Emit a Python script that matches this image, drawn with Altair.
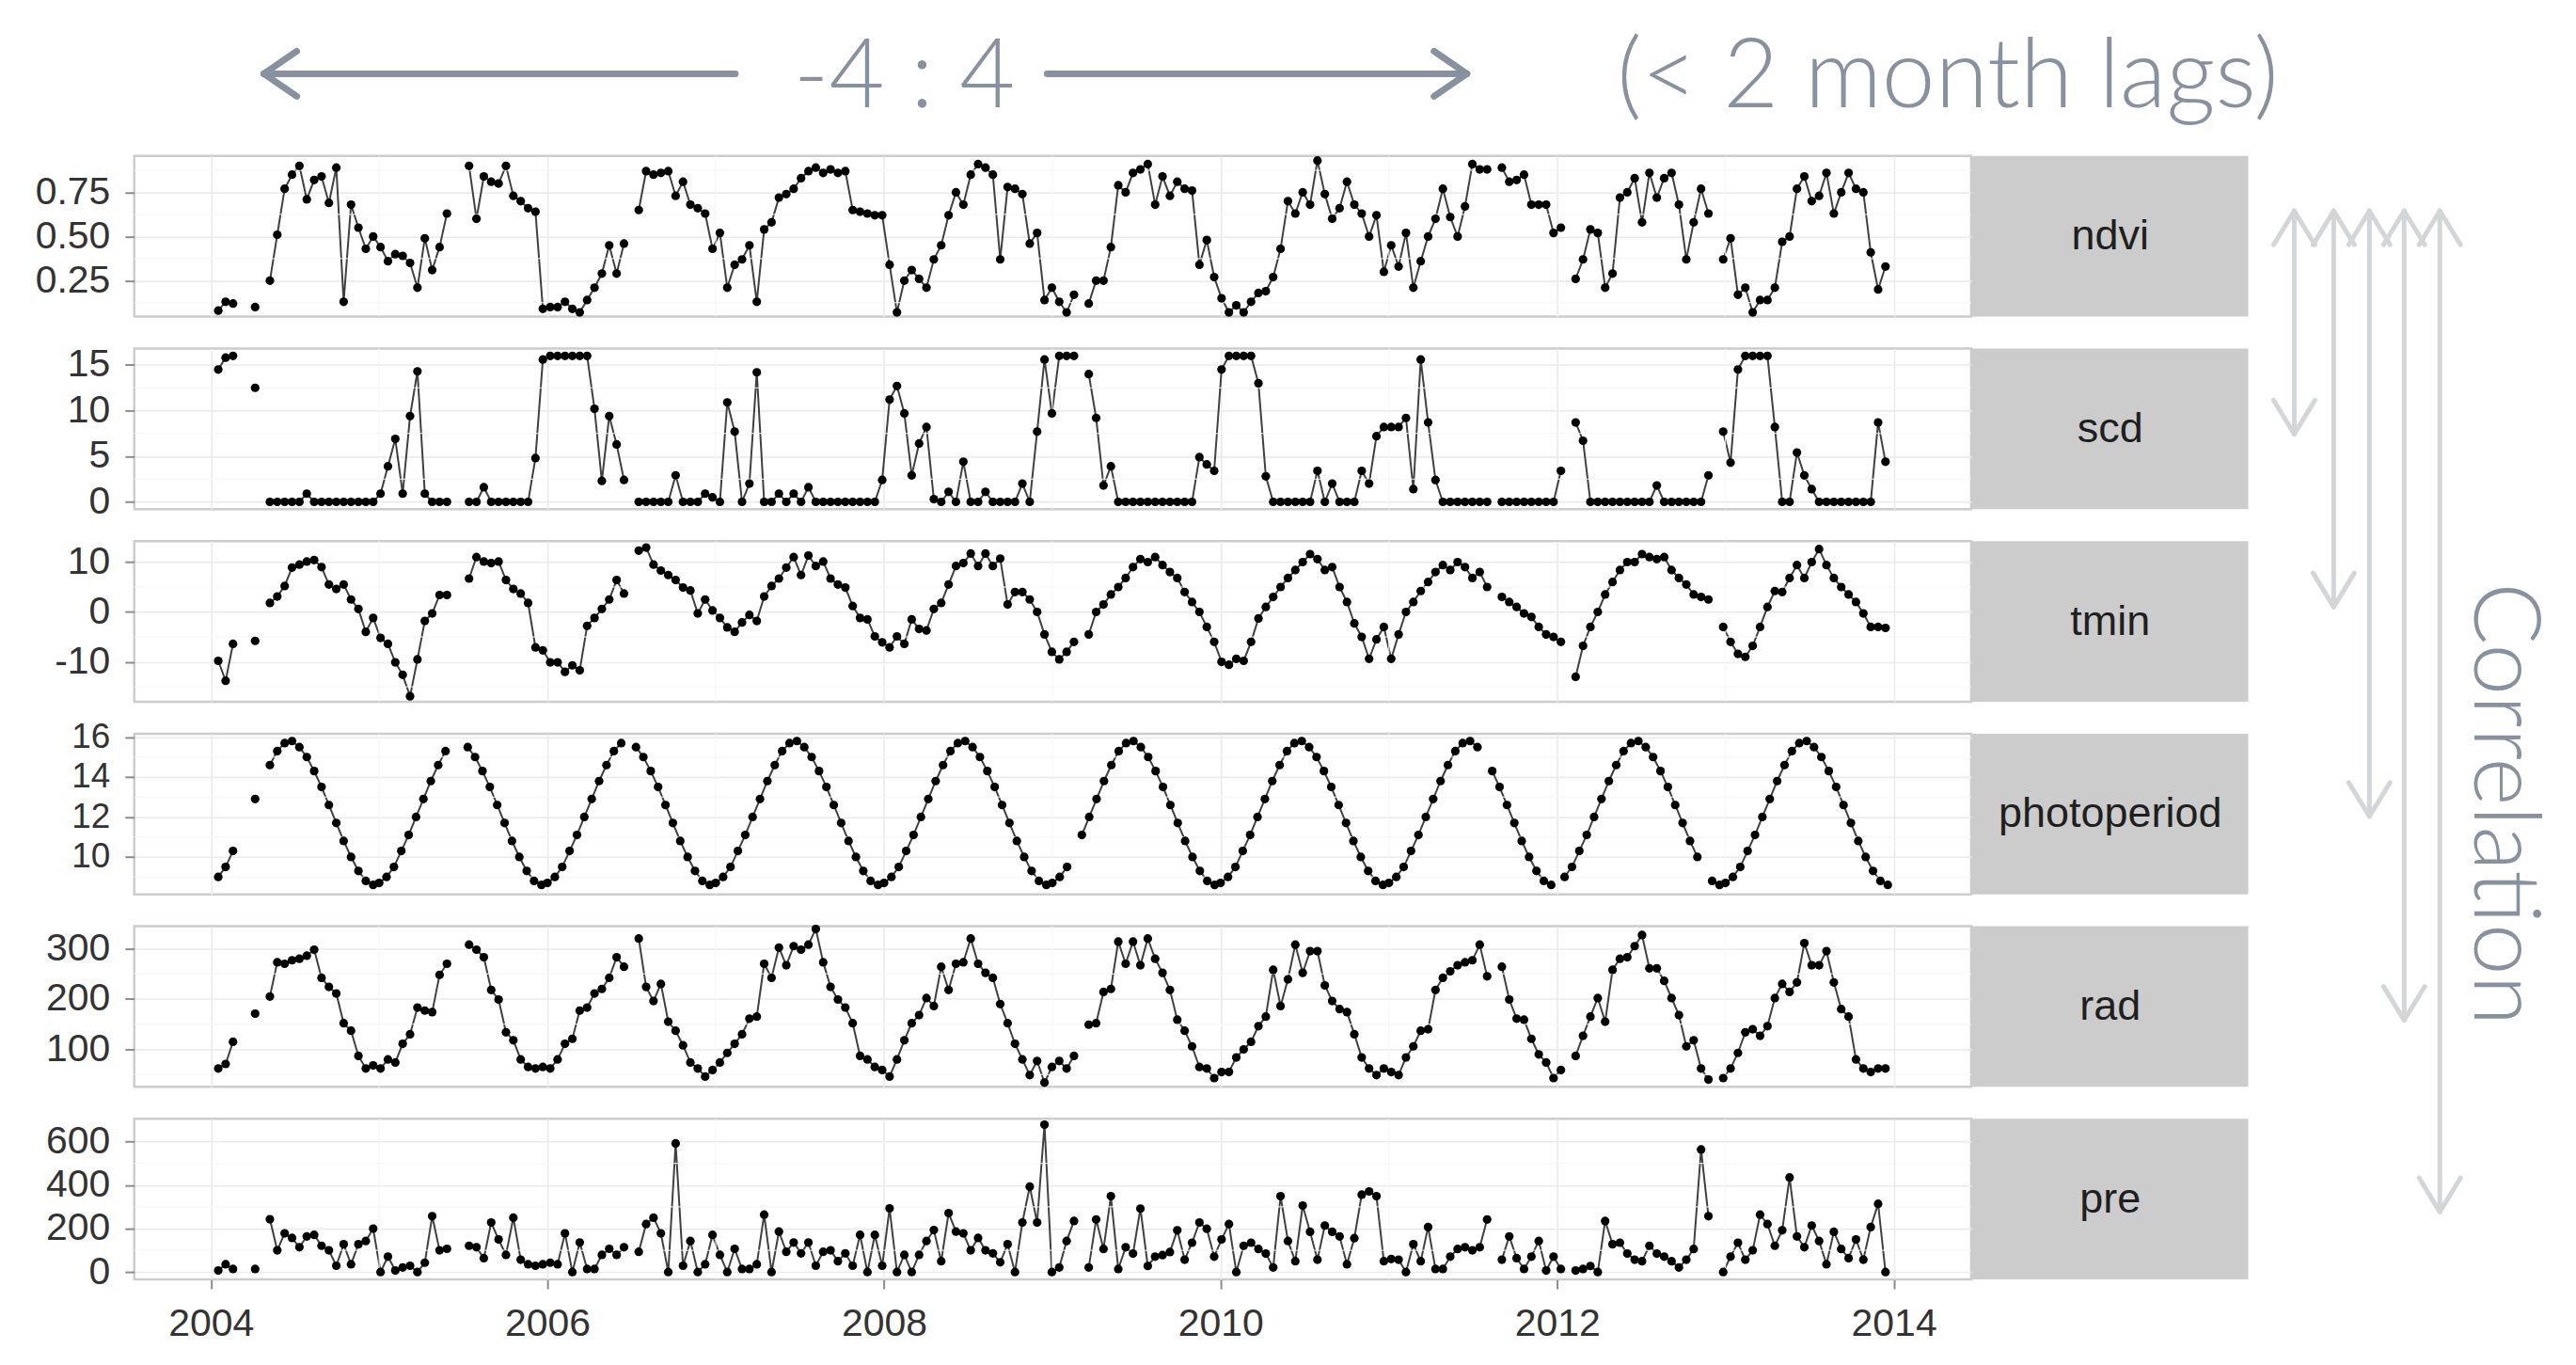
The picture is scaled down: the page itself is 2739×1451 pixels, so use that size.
import pandas as pd
import altair as alt

nan = float("nan")

YEARS = [2004, 2005, 2006, 2007, 2008, 2009, 2010, 2011, 2012, 2013]
DOY = [1, 17, 33, 49, 65, 81, 97, 113, 129, 145, 161, 177, 193, 209, 225, 241, 257, 273, 289, 305, 321, 337, 353]
STEP_DAYS = 16

NDVI = [
    [nan, 0.08, 0.13, 0.12, nan, nan, 0.10, nan, 0.25, 0.51, 0.77, 0.85, 0.90, 0.71, 0.82, 0.84, 0.69, 0.89, 0.13, 0.68, 0.55, 0.43, 0.50],
    [0.44, 0.36, 0.40, 0.39, 0.35, 0.21, 0.49, 0.31, 0.44, 0.63, nan, nan, 0.90, 0.60, 0.84, 0.81, 0.80, 0.90, 0.73, 0.70, 0.66, 0.64, 0.09],
    [0.10, 0.10, 0.13, 0.09, 0.07, 0.14, 0.21, 0.29, 0.45, 0.29, 0.46, nan, 0.65, 0.87, 0.85, 0.86, 0.87, 0.73, 0.81, 0.68, 0.66, 0.63, 0.43],
    [0.52, 0.21, 0.34, 0.37, 0.45, 0.13, 0.54, 0.58, 0.72, 0.74, 0.77, 0.83, 0.87, 0.89, 0.86, 0.88, 0.86, 0.87, 0.65, 0.64, 0.63, 0.62, 0.62],
    [0.34, 0.07, 0.25, 0.31, 0.26, 0.21, 0.37, 0.45, 0.62, 0.75, 0.68, 0.85, 0.91, 0.89, 0.85, 0.37, 0.78, 0.77, 0.74, 0.46, 0.52, 0.14, 0.21],
    [0.13, 0.07, 0.17, nan, 0.12, 0.25, 0.25, 0.44, 0.79, 0.75, 0.86, 0.88, 0.91, 0.68, 0.84, 0.73, 0.81, 0.77, 0.76, 0.34, 0.48, 0.27, 0.15],
    [0.07, 0.11, 0.07, 0.13, 0.18, 0.19, 0.27, 0.43, 0.70, 0.63, 0.75, 0.68, 0.93, 0.74, 0.60, 0.66, 0.81, 0.68, 0.63, 0.50, 0.62, 0.30, 0.45],
    [0.33, 0.52, 0.21, 0.36, 0.50, 0.60, 0.77, 0.61, 0.50, 0.67, 0.91, 0.88, 0.88, nan, 0.89, 0.81, 0.82, 0.85, 0.68, 0.68, 0.68, 0.52, 0.55],
    [nan, 0.26, 0.37, 0.54, 0.52, 0.21, 0.29, 0.72, 0.75, 0.83, 0.58, 0.86, 0.72, 0.83, 0.86, 0.68, 0.37, 0.58, 0.77, 0.63, nan, 0.37, 0.49],
    [0.17, 0.21, 0.07, 0.14, 0.14, 0.21, 0.47, 0.50, 0.77, 0.84, 0.70, 0.73, 0.86, 0.63, 0.75, 0.86, 0.77, 0.75, 0.41, 0.20, 0.33, nan, nan],
]

SCD = [
    [nan, 14.5, 15.8, 16, nan, nan, 12.5, nan, 0, 0, 0, 0, 0, 0.9, 0, 0, 0, 0, 0, 0, 0, 0, 0],
    [0.9, 3.9, 6.9, 0.9, 9.4, 14.3, 0.9, 0, 0, 0, nan, nan, 0, 0, 1.6, 0, 0, 0, 0, 0, 0, 4.8, 15.6],
    [16, 16, 16, 16, 16, 16, 10.2, 2.3, 9.4, 6.3, 2.4, nan, 0, 0, 0, 0, 0, 2.9, 0, 0, 0, 0.9, 0.5],
    [0, 10.9, 7.7, 0, 2.0, 14.2, 0, 0, 0.9, 0, 0.9, 0, 1.6, 0, 0, 0, 0, 0, 0, 0, 0, 0, 2.4],
    [11.2, 12.7, 9.7, 2.9, 6.4, 8.2, 0.3, 0, 1.1, 0, 4.4, 0, 0, 1.1, 0, 0, 0, 0, 2.0, 0, 7.7, 15.6, 9.7],
    [16, 16, 16, nan, 14, 9.2, 1.8, 3.9, 0, 0, 0, 0, 0, 0, 0, 0, 0, 0, 0, 4.9, 4.1, 3.4, 14.5],
    [16, 16, 16, 16, 13.0, 2.8, 0, 0, 0, 0, 0, 0, 3.4, 0, 2.0, 0, 0, 0, 3.4, 2.0, 7.2, 8.2, 8.2],
    [8.2, 9.2, 1.4, 15.6, 8.7, 2.4, 0, 0, 0, 0, 0, 0, 0, nan, 0, 0, 0, 0, 0, 0, 0, 0, 3.4],
    [nan, 8.7, 6.7, 0, 0, 0, 0, 0, 0, 0, 0, 0, 1.8, 0, 0, 0, 0, 0, 0, 2.9, nan, 7.7, 4.3],
    [14.5, 16, 16, 16, 16, 8.2, 0, 0, 5.4, 2.9, 1.4, 0, 0, 0, 0, 0, 0, 0, 0, 8.7, 4.4, nan, nan],
]

TMIN = [
    [nan, -9.8, -13.8, -6.4, nan, nan, -5.8, nan, 1.8, 3.1, 5.2, 8.9, 9.5, 10.1, 10.4, 9.0, 5.5, 4.6, 5.5, 2.5, 0.6, -4.0, -1.2],
    [-5.2, -6.4, -10.1, -12.6, -16.9, -9.5, -1.8, -0.3, 3.4, 3.4, nan, nan, 6.7, 11.0, 10.1, 9.8, 10.1, 6.4, 4.6, 3.7, 1.8, -7.1, -7.7],
    [-10.1, -10.1, -12.0, -10.7, -11.7, -2.8, -1.2, 0.6, 2.5, 6.4, 3.7, nan, 12.3, 12.9, 9.5, 8.3, 7.4, 6.4, 4.9, 4.3, -0.3, 2.5, 0.3],
    [-1.2, -3.1, -4.0, -2.1, -0.6, -1.8, 3.1, 5.2, 6.7, 8.9, 11.0, 7.4, 11.3, 9.2, 10.1, 6.7, 5.5, 4.9, 1.2, -1.2, -1.5, -4.9, -6.1],
    [-7.1, -4.9, -6.4, -1.5, -3.4, -3.7, 0.6, 1.8, 5.5, 9.2, 9.8, 11.7, 9.2, 11.7, 9.2, 10.7, 1.5, 4.0, 4.0, 2.5, 0.0, -4.5, -8.0],
    [-9.5, -8.0, -6.0, nan, -4.5, 0.0, 1.5, 3.5, 5.0, 6.8, 9.0, 10.6, 10.0, 11.0, 9.4, 8.0, 6.8, 4.0, 2.0, 0.0, -3.0, -6.0, -10.0],
    [-10.6, -9.4, -9.8, -6.0, -1.3, 1.0, 3.0, 5.0, 6.8, 8.4, 10.0, 11.6, 10.6, 8.4, 9.0, 5.0, 2.0, -2.3, -5.0, -9.4, -5.5, -3.0, -9.4],
    [-4.5, 0.0, 2.0, 4.2, 6.0, 8.0, 9.4, 8.4, 10.0, 9.0, 6.8, 8.0, 5.0, nan, 3.0, 2.0, 1.0, -0.3, -1.0, -3.0, -4.5, -5.0, -6.0],
    [nan, -13.0, -6.8, -3.0, 0.0, 3.5, 6.0, 8.4, 10.0, 10.0, 11.6, 11.0, 10.6, 11.0, 8.4, 6.8, 5.5, 3.5, 3.0, 2.5, nan, -3.0, -6.0],
    [-8.4, -9.0, -6.8, -3.0, 1.0, 4.2, 4.0, 6.8, 9.4, 6.8, 10.0, 12.6, 9.4, 6.8, 5.0, 3.5, 2.0, -0.3, -3.0, -3.0, -3.2, nan, nan],
]

PHOTOPERIOD = [
    [nan, 9.0, 9.5, 10.3, nan, nan, 12.9, nan, 14.6, 15.3, 15.7, 15.8, 15.5, 15.0, 14.3, 13.5, 12.6, 11.7, 10.8, 10.0, 9.3, 8.8, 8.6],
    [8.7, 9.0, 9.5, 10.3, 11.1, 12.0, 12.9, 13.8, 14.6, 15.3, nan, nan, 15.5, 15.0, 14.3, 13.5, 12.6, 11.7, 10.8, 10.0, 9.3, 8.8, 8.6],
    [8.7, 9.0, 9.5, 10.3, 11.1, 12.0, 12.9, 13.8, 14.6, 15.3, 15.7, nan, 15.5, 15.0, 14.3, 13.5, 12.6, 11.7, 10.8, 10.0, 9.3, 8.8, 8.6],
    [8.7, 9.0, 9.5, 10.3, 11.1, 12.0, 12.9, 13.8, 14.6, 15.3, 15.7, 15.8, 15.5, 15.0, 14.3, 13.5, 12.6, 11.7, 10.8, 10.0, 9.3, 8.8, 8.6],
    [8.7, 9.0, 9.5, 10.3, 11.1, 12.0, 12.9, 13.8, 14.6, 15.3, 15.7, 15.8, 15.5, 15.0, 14.3, 13.5, 12.6, 11.7, 10.8, 10.0, 9.3, 8.8, 8.6],
    [8.7, 9.0, 9.5, nan, 11.1, 12.0, 12.9, 13.8, 14.6, 15.3, 15.7, 15.8, 15.5, 15.0, 14.3, 13.5, 12.6, 11.7, 10.8, 10.0, 9.3, 8.8, 8.6],
    [8.7, 9.0, 9.5, 10.3, 11.1, 12.0, 12.9, 13.8, 14.6, 15.3, 15.7, 15.8, 15.5, 15.0, 14.3, 13.5, 12.6, 11.7, 10.8, 10.0, 9.3, 8.8, 8.6],
    [8.7, 9.0, 9.5, 10.3, 11.1, 12.0, 12.9, 13.8, 14.6, 15.3, 15.7, 15.8, 15.5, nan, 14.3, 13.5, 12.6, 11.7, 10.8, 10.0, 9.3, 8.8, 8.6],
    [nan, 9.0, 9.5, 10.3, 11.1, 12.0, 12.9, 13.8, 14.6, 15.3, 15.7, 15.8, 15.5, 15.0, 14.3, 13.5, 12.6, 11.7, 10.8, 10.0, nan, 8.8, 8.6],
    [8.7, 9.0, 9.5, 10.3, 11.1, 12.0, 12.9, 13.8, 14.6, 15.3, 15.7, 15.8, 15.5, 15.0, 14.3, 13.5, 12.6, 11.7, 10.8, 10.0, 9.3, 8.8, 8.6],
]

RAD = [
    [nan, 62, 71, 115, nan, nan, 171, nan, 205, 273, 270, 277, 280, 286, 298, 242, 224, 211, 152, 137, 87, 62, 68],
    [62, 80, 74, 111, 130, 183, 177, 174, 248, 270, nan, nan, 308, 298, 283, 218, 199, 134, 118, 80, 65, 62, 65],
    [62, 80, 111, 121, 177, 183, 211, 220, 242, 283, 264, nan, 320, 224, 196, 230, 155, 137, 108, 74, 62, 46, 59],
    [74, 93, 111, 130, 161, 165, 270, 242, 302, 267, 305, 298, 308, 339, 273, 224, 199, 183, 152, 87, 80, 65, 59],
    [46, 80, 118, 152, 168, 202, 186, 264, 218, 270, 273, 320, 270, 252, 242, 190, 152, 111, 80, 49, 77, 34, 65],
    [77, 62, 87, nan, 149, 152, 214, 220, 314, 270, 314, 267, 320, 280, 252, 218, 159, 137, 106, 65, 62, 43, 55],
    [55, 84, 100, 115, 146, 165, 258, 186, 239, 308, 252, 295, 295, 227, 196, 180, 174, 130, 84, 62, 49, 62, 55],
    [49, 84, 106, 137, 140, 218, 242, 255, 267, 273, 277, 308, 245, nan, 264, 199, 161, 159, 121, 90, 74, 43, 59],
    [nan, 87, 127, 165, 202, 155, 258, 280, 283, 305, 327, 261, 261, 236, 202, 168, 106, 118, 62, 40, nan, 43, 62],
    [93, 134, 140, 127, 146, 202, 230, 214, 233, 311, 267, 267, 295, 233, 180, 165, 80, 62, 55, 62, 62, nan, nan],
]

PRE = [
    [nan, 7, 36, 14, nan, nan, 14, nan, 243, 100, 178, 157, 114, 164, 171, 121, 100, 29, 128, 36, 128, 143, 200],
    [0, 71, 7, 21, 29, 0, 43, 257, 100, 107, nan, nan, 121, 114, 64, 228, 150, 79, 250, 57, 36, 29, 36],
    [43, 36, 178, 0, 136, 14, 14, 79, 107, 79, 114, nan, 93, 221, 250, 178, 0, 592, 29, 143, 0, 36, 171],
    [79, 0, 107, 14, 14, 36, 264, 0, 186, 93, 136, 86, 136, 29, 93, 100, 50, 86, 29, 171, 0, 171, 29],
    [293, 0, 79, 0, 79, 143, 193, 50, 271, 186, 178, 100, 157, 100, 86, 45, 128, 0, 228, 393, 228, 678, 0],
    [21, 143, 235, nan, 21, 242, 106, 349, 14, 114, 85, 292, 28, 71, 78, 92, 192, 57, 135, 228, 199, 71, 150],
    [221, 0, 121, 135, 106, 85, 21, 349, 143, 50, 306, 185, 57, 214, 185, 164, 36, 156, 356, 371, 349, 50, 60],
    [57, 0, 128, 50, 207, 14, 14, 71, 106, 114, 100, 114, 242, nan, 57, 164, 64, 14, 71, 143, 7, 71, 14],
    [nan, 7, 14, 28, 0, 235, 128, 135, 85, 57, 50, 121, 85, 71, 50, 21, 57, 106, 564, 257, nan, 0, 71],
    [135, 57, 100, 264, 221, 121, 192, 435, 164, 114, 214, 143, 36, 185, 106, 64, 150, 57, 207, 314, 0, nan, nan],
]

X_TICKS = [2004, 2006, 2008, 2010, 2012, 2014]
X_MINOR = [2005, 2007, 2009, 2011, 2013]
XDOM = [2003.545, 2014.46]

W, H = 1956, 171
STRIP_W = 294
SPACING = 34

TITLE_C = "#8791a0"
ARROW_C = "#d3d6d9"
MINOR_C = "#f5f5f5"
TEXT_FONT = "Lato"
LABEL_SIZE = 41


def build_frame(rows, calendar):
    recs = []
    seg = 0
    prev = False
    k = 0
    for yr, row in zip(YEARS, rows):
        for doy, v in zip(DOY, row):
            ok = v == v
            if ok:
                if not prev:
                    seg += 1
                if calendar:
                    t = yr + (doy - 1) / 365.0
                else:
                    t = YEARS[0] + k * STEP_DAYS / 365.0
                recs.append({"t": t, "v": v, "seg": seg})
            prev = ok
            k += 1
    return pd.DataFrame(recs)


ONE = pd.DataFrame({"a": [0]})


def seg_layer(x1, y1, x2, y2, color, width):
    return alt.Chart(ONE).mark_rule(color=color, strokeWidth=width, strokeCap="round").encode(
        x=alt.value(x1), y=alt.value(y1), x2=alt.value(x2), y2=alt.value(y2)
    )


def anchor(x, y):
    return alt.Chart(ONE).mark_rect(color="white").encode(
        x=alt.value(x), x2=alt.value(x + 1), y=alt.value(y), y2=alt.value(y + 1))


def annotations():
    layers = [anchor(-133, -155), anchor(2589, -155)]
    ay = -87.5
    # left arrow
    layers.append(seg_layer(138, ay, 640, ay, TITLE_C, 7))
    layers.append(seg_layer(138, ay, 173, ay - 24, TITLE_C, 7))
    layers.append(seg_layer(138, ay, 173, ay + 24, TITLE_C, 7))
    # right arrow
    layers.append(seg_layer(972, ay, 1419, ay, TITLE_C, 7))
    layers.append(seg_layer(1419, ay, 1384, ay - 24, TITLE_C, 7))
    layers.append(seg_layer(1419, ay, 1384, ay + 24, TITLE_C, 7))
    # titles
    layers.append(alt.Chart(ONE).mark_text(font=TEXT_FONT, fontWeight=300, fontSize=102, color=TITLE_C,
                                           align="center", baseline="alphabetic").encode(
        x=alt.value(820), y=alt.value(-52), text=alt.value("-4 : 4")))
    layers.append(alt.Chart(ONE).mark_text(font=TEXT_FONT, fontWeight=300, fontSize=102, color=TITLE_C,
                                           align="center", baseline="alphabetic").encode(
        x=alt.value(1931), y=alt.value(-52), text=alt.value("(< 2 month lags)")))
    # correlation arrows
    xs = [2300, 2342, 2380, 2417, 2455]
    bottoms = [296, 480, 703, 920, 1124]
    top = 58.5
    for x, b in zip(xs, bottoms):
        layers.append(seg_layer(x, top, x, b, ARROW_C, 5))
        layers.append(seg_layer(x, top, x - 22, top + 36, ARROW_C, 5))
        layers.append(seg_layer(x, top, x + 22, top + 36, ARROW_C, 5))
        layers.append(seg_layer(x, b, x - 22, b - 36, ARROW_C, 5))
        layers.append(seg_layer(x, b, x + 22, b - 36, ARROW_C, 5))
    layers.append(alt.Chart(ONE).mark_text(font=TEXT_FONT, fontWeight=300, fontSize=98, color=TITLE_C,
                                           align="center", baseline="middle", angle=90).encode(
        x=alt.value(2521), y=alt.value(690), text=alt.value("Correlation")))
    return layers


PANELS = [
    ("ndvi", NDVI, [0.046, 0.956], [0.25, 0.5, 0.75], [0.125, 0.375, 0.625, 0.875], "format(datum.value, '.2f')", LABEL_SIZE),
    ("scd", SCD, [-0.8, 16.8], [0, 5, 10, 15], [2.5, 7.5, 12.5], "'' + datum.value", LABEL_SIZE),
    ("tmin", TMIN, [-18.0, 14.2], [-10, 0, 10], [-15, -5, 5], "'' + datum.value", LABEL_SIZE),
    ("photoperiod", PHOTOPERIOD, [8.13, 16.17], [10, 12, 14, 16], [9, 11, 13, 15], "'' + datum.value", 37),
    ("rad", RAD, [25.5, 344.5], [100, 200, 300], [50, 150, 250], "'' + datum.value", LABEL_SIZE),
    ("pre", PRE, [-34, 705], [0, 200, 400, 600], [100, 300, 500], "'' + datum.value", LABEL_SIZE),
]


def panel(idx, name, rows, ydom, yticks, yminor, lblexpr, lblsize):
    bottom = idx == len(PANELS) - 1
    df = build_frame(rows, calendar=(name == "photoperiod"))
    xs = alt.Scale(domain=XDOM, nice=False, zero=False)
    ys = alt.Scale(domain=ydom, nice=False, zero=False)
    xaxis = alt.Axis(values=X_TICKS, title=None, grid=True, domain=False, labels=bottom, ticks=bottom,
                     labelExpr="'' + datum.value", labelPadding=18, labelFlush=False, labelOverlap=False)
    yaxis = alt.Axis(values=yticks, title=None, grid=True, domain=False, labelExpr=lblexpr,
                     labelPadding=16, labelOverlap=False, labelFontSize=lblsize)
    base = alt.Chart(df)
    line = base.mark_line(color="#404040", strokeWidth=2).encode(
        x=alt.X("t:Q", scale=xs, axis=xaxis), y=alt.Y("v:Q", scale=ys, axis=yaxis), detail="seg:N")
    pts = base.mark_circle(color="black", size=85, opacity=1).encode(
        x=alt.X("t:Q", scale=xs, axis=xaxis), y=alt.Y("v:Q", scale=ys, axis=yaxis))
    minor_x = alt.Chart(pd.DataFrame({"t": X_MINOR})).mark_rule(color=MINOR_C, strokeWidth=1).encode(
        x=alt.X("t:Q", scale=xs, axis=xaxis))
    minor_y = alt.Chart(pd.DataFrame({"v": yminor})).mark_rule(color=MINOR_C, strokeWidth=1).encode(
        y=alt.Y("v:Q", scale=ys, axis=yaxis))
    strip_rect = alt.Chart(ONE).mark_rect(color="#cccccc").encode(
        x=alt.value(W + 1), x2=alt.value(W + 1 + STRIP_W), y=alt.value(0), y2=alt.value(H))
    strip_text = alt.Chart(ONE).mark_text(font="Liberation Sans", fontSize=45, color="#1f1f1f",
                                          align="center", baseline="middle").encode(
        x=alt.value(W + 1 + STRIP_W / 2), y=alt.value(H / 2), text=alt.value(name))
    layers = [line, minor_x, minor_y, pts, strip_rect, strip_text]
    if idx == 0:
        layers += annotations()
    return alt.layer(*layers).properties(width=W, height=H)


charts = [panel(i, *p) for i, p in enumerate(PANELS)]

chart = alt.vconcat(*charts, spacing=SPACING, bounds="flush").properties(
    padding=0, background="white"
).configure_view(
    stroke="#cccccc", strokeWidth=2.5
).configure_axis(
    labelFont="Liberation Sans", labelFontSize=LABEL_SIZE, labelColor="#333333",
    tickColor="#8c8c8c", tickSize=10, tickWidth=2,
    gridColor="#ebebeb", gridWidth=1.6
)

chart.save("out.html", embed_options={"renderer": "svg", "actions": False})
